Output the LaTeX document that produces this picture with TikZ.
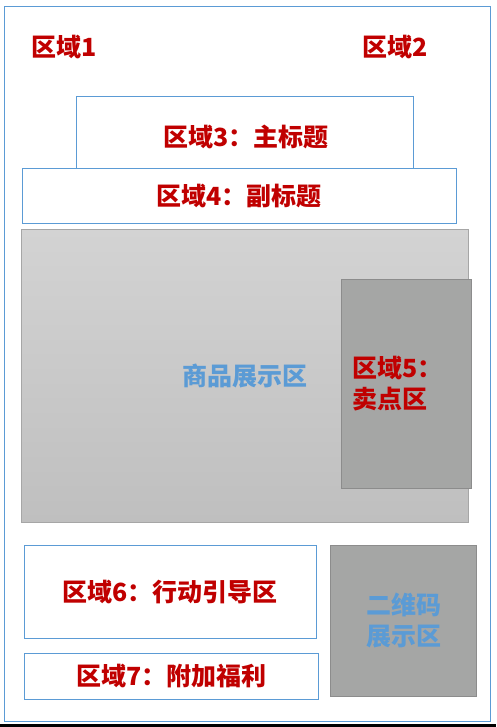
\documentclass[tikz,border=0pt]{standalone}
\usepackage{fontspec}
\setmainfont{Noto Sans CJK SC}
\usetikzlibrary{positioning}
\definecolor{zoneblue}{HTML}{5B9BD5}
\definecolor{zonered}{HTML}{C00000}
\definecolor{boxgray}{HTML}{A5A6A5}
\tikzset{>=latex}

\begin{document}
\begin{tikzpicture}[x=1pt, y=-1pt,
	zone/.style={draw=zoneblue, line width=1pt, fill=white, inner sep=0pt},
	grayzone/.style={draw=gray!90, line width=1pt, fill=boxgray, inner sep=0pt},
	redtext/.style={text=zonered, font=\fontsize{25}{30.5}\selectfont\bfseries, inner sep=0pt, align=center},
	bluetext/.style={text=zoneblue, font=\fontsize{25}{30.5}\selectfont\bfseries, inner sep=0pt, align=center}]
		\useasboundingbox (0,0) rectangle (496,727);
		\fill[black] (0,724) rectangle (496,727);
		\node[draw=zoneblue, line width=1pt, minimum width=486pt, minimum height=714pt, inner sep=0pt] (page) at (247,364) {};

		\node[redtext] (z1) at (64,47) {区域1};
		\node[redtext] (z2) at (395,47) {区域2};

		% title bars
		\node[zone, minimum width=337pt, minimum height=72pt] (z3) at (245,132.3) {};
		\node[redtext] (z3t) at (246,136.5) {区域3：主标题};
		\node[zone, minimum width=434pt, minimum height=55pt, redtext] (z4) at (239.3,195.8) {区域4：副标题};

		% product area
		\node[draw=gray!70, line width=1pt, top color={rgb,255:red,211;green,211;blue,211}, bottom color={rgb,255:red,191;green,191;blue,191}, minimum width=447pt, minimum height=293pt, inner sep=0pt, bluetext] (show) at (245,375.8) {商品展示区};
		\node[grayzone, minimum width=130pt, minimum height=209pt] (z5) at (406.5,383.8) {};
		\node[redtext, align=left, anchor=west] (z5t) at (352,383.5) {区域5：\\卖点区};

		% bottom part
		\node[zone, minimum width=292pt, minimum height=93pt, redtext] (z6) at (170.3,591.8) {区域6：行动引导区};
		\node[zone, minimum width=294pt, minimum height=46pt, redtext] (z7) at (171.5,676.3) {区域7：附加福利};
		\node[grayzone, minimum width=146pt, minimum height=151pt, bluetext] (qr) at (403.8,620.7) {二维码\\展示区};
\end{tikzpicture}
\end{document}
